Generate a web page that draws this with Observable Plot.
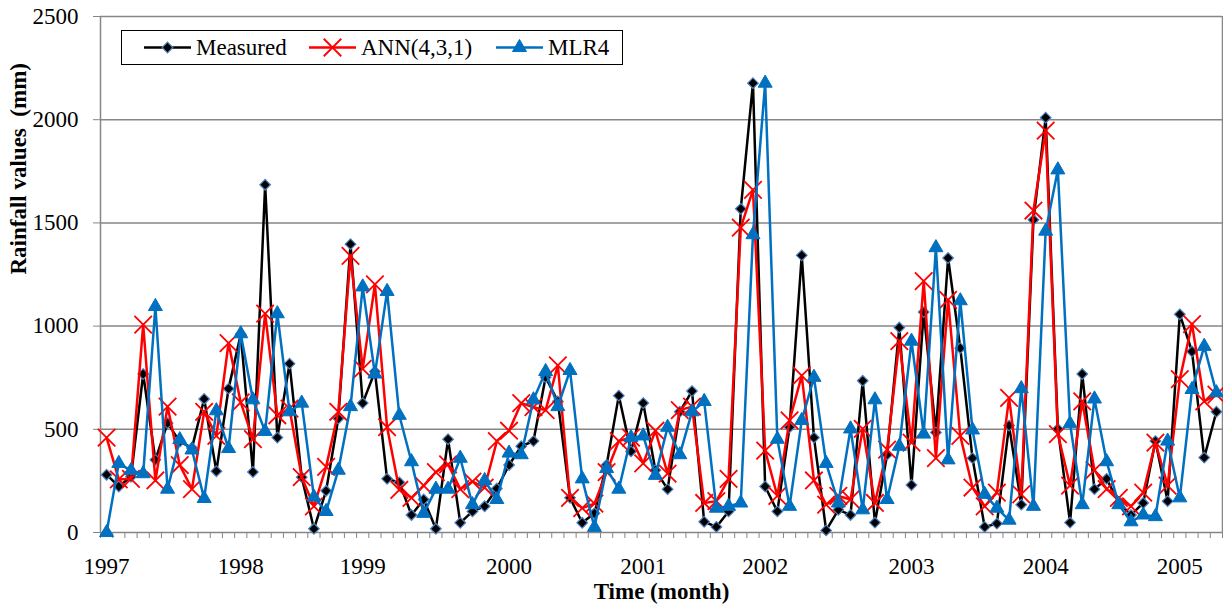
<!DOCTYPE html>
<html><head><meta charset="utf-8">
<script src="https://cdn.jsdelivr.net/npm/d3@7"></script>
<script src="https://cdn.jsdelivr.net/npm/@observablehq/plot@0.6"></script>
<style>
body{margin:0;background:#fff;}
#wrap{position:relative;width:1223px;height:609px;}
#legend{position:absolute;left:121px;top:30px;width:500px;height:33px;border:1.5px solid #000;background:#fff;font-family:"Liberation Serif",serif;font-size:23px;}
#legend .item{position:absolute;top:0;height:33px;display:flex;align-items:center;}
#legend svg{display:block;}
#legend span{margin-left:5px;line-height:33px;}
#chart svg text{white-space:pre;font-family:"Liberation Serif",serif !important;}
</style></head>
<body><div id="wrap"><div id="chart"></div><div id="legend"></div></div>
<script>
const measured = [280,223,270,768,352,530,440,410,647,297,697,960,293,1685,460,818,268,18,202,552,
1397,627,780,260,243,85,160,18,452,47,102,127,213,327,418,443,752,635,168,47,
93,327,663,393,627,302,210,585,685,52,27,102,1568,2177,223,102,510,1343,460,10,
110,85,735,48,377,993,230,1068,485,1330,893,360,27,43,518,135,1515,2010,502,48,
768,210,260,143,85,143,443,152,1057,877,363,585];
const ann = [460,257,260,1007,252,610,327,210,585,468,918,630,452,1060,568,600,268,127,318,585,
1340,793,1202,510,207,168,227,293,330,210,247,218,443,493,627,607,593,810,168,118,
140,293,443,460,335,493,285,593,610,143,152,260,1477,1660,397,177,543,760,252,135,
177,160,502,143,402,927,435,1218,360,1127,468,218,127,193,652,185,1560,1947,477,227,
635,302,210,168,127,193,435,227,743,1010,635,668];
const mlr4 = [0,335,300,285,1095,210,450,400,165,590,407,963,643,490,1060,585,627,172,102,302,
610,1190,768,1168,568,343,93,210,210,360,135,252,160,385,377,643,780,610,785,260,
25,310,210,460,468,277,510,377,585,635,118,127,143,1443,2177,452,127,543,752,335,
143,502,110,643,160,418,927,477,1380,352,1123,497,185,118,60,697,127,1460,1757,527,
135,647,343,135,52,85,77,443,168,693,902,677];
const yearLabels = ["1997","1998","1999","2000","2001","2002","2003","2004","2005"];
const yearIndex = [0,11,21,33,44,54,66,77,88];
const yTicks = [0,500,1000,1500,2000,2500];
const seriesNames = ["Measured","ANN(4,3,1)","MLR4"];

const grid = "#868686";
const rows = vals => vals.map((v,i)=>({i, v}));
const n = measured.length;
const catBounds = d3.range(n+1).map(k => k - 0.5);

const chart = Plot.plot({
  width:1223, height:609,
  marginLeft:100, marginRight:1, marginTop:16, marginBottom:77,
  style:{fontFamily:"'Liberation Serif', serif", fontSize:"23px", background:"#fff", color:"#000", overflow:"visible"},
  x:{domain:[-0.5, n-0.5]},
  y:{domain:[0,2500]},
  marks:[
    Plot.ruleY(yTicks.slice(1), {stroke:grid, strokeWidth:1.5}),
    Plot.ruleX([catBounds[0], catBounds[n]], {stroke:grid, strokeWidth:1.5}),
    Plot.ruleY([0], {stroke:grid, strokeWidth:1.5}),
    Plot.axisY({ticks:yTicks, tickSize:7, tickPadding:15, stroke:grid, label:null, tickFormat:d=>String(d), fontSize:23}),
    Plot.axisX({ticks:catBounds, tickSize:6, tickFormat:()=>"", stroke:grid, label:null}),
    Plot.axisX({ticks:yearIndex, tickSize:0, tickPadding:25, tickFormat:d=>yearLabels[yearIndex.indexOf(d)], label:null, fontSize:23}),
    Plot.text(["Rainfall values  (mm)"], {text:d=>d, frameAnchor:"left", dx:-82, rotate:-90, fontWeight:"bold", fontSize:23}),
    Plot.text(["Time (month)"], {text:d=>d, frameAnchor:"bottom", dy:66, fontWeight:"bold", fontSize:23}),
    Plot.line(rows(measured), {x:"i", y:"v", stroke:"#000", strokeWidth:2.5}),
    Plot.dot(rows(measured), {x:"i", y:"v", symbol:"diamond2", r:4.8, fill:"#000", stroke:"#4f81bd", strokeWidth:1.2}),
    Plot.line(rows(ann), {x:"i", y:"v", stroke:"#ff0000", strokeWidth:2.5}),
    Plot.dot(rows(ann), {x:"i", y:"v", symbol:"times", r:8, stroke:"#ff0000", strokeWidth:1.8}),
    Plot.line(rows(mlr4), {x:"i", y:"v", stroke:"#0070c0", strokeWidth:2.5}),
    Plot.dot(rows(mlr4), {x:"i", y:"v", symbol:"triangle", r:5.2, fill:"#0070c0", stroke:"#0070c0", strokeWidth:1})
  ]
});
document.getElementById("chart").appendChild(chart);

// legend
const legendSpec = [
  {name:seriesNames[0], left:22, stroke:"#000", sym:d3.symbolDiamond2, size:Math.PI*23, fill:"#000", sstroke:"#4f81bd", sw:1.2},
  {name:seriesNames[1], left:187, stroke:"#ff0000", sym:d3.symbolTimes, size:Math.PI*64, fill:"none", sstroke:"#ff0000", sw:1.8},
  {name:seriesNames[2], left:374, stroke:"#0070c0", sym:d3.symbolTriangle, size:Math.PI*27, fill:"#0070c0", sstroke:"#0070c0", sw:1}
];
const leg = d3.select("#legend");
for (const s of legendSpec) {
  const item = leg.append("div").attr("class","item").style("left", s.left+"px");
  const sv = item.append("svg").attr("width",47).attr("height",33);
  sv.append("line").attr("x1",0).attr("x2",47).attr("y1",16.5).attr("y2",16.5).attr("stroke",s.stroke).attr("stroke-width",2.5);
  sv.append("path").attr("d", d3.symbol(s.sym, s.size)()).attr("transform","translate(23.5,16.5)")
    .attr("fill",s.fill).attr("stroke",s.sstroke).attr("stroke-width",s.sw);
  item.append("span").text(s.name);
}
</script>
</body></html>
